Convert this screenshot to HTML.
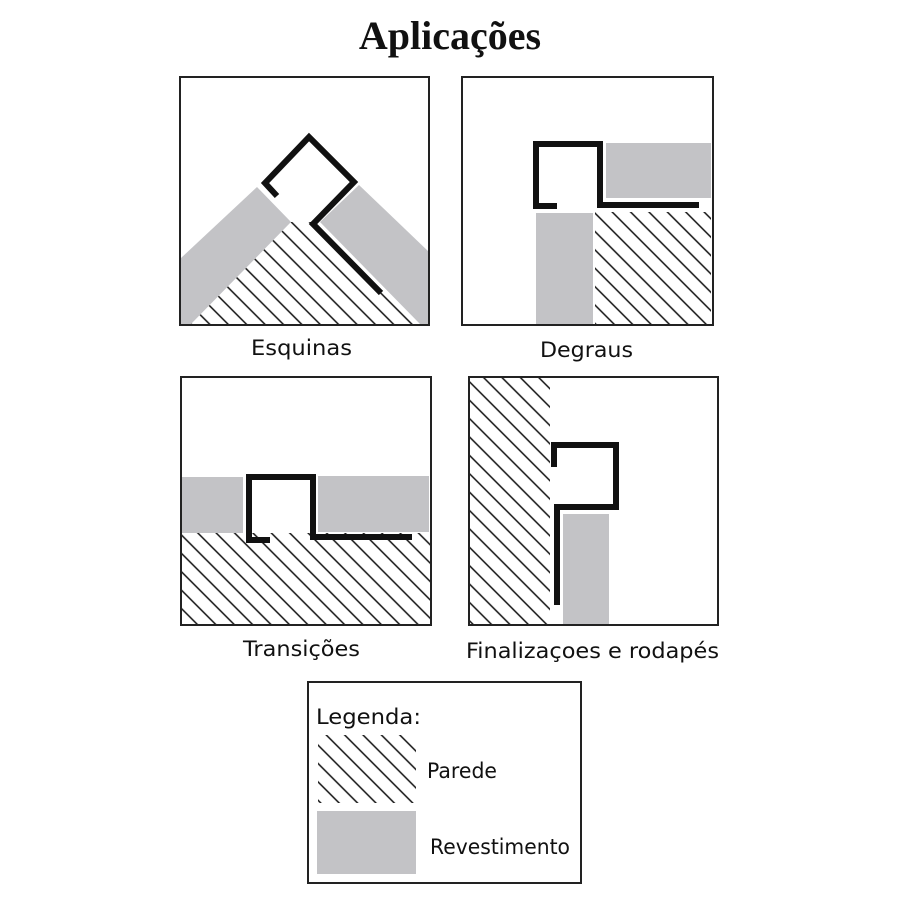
<!DOCTYPE html>
<html><head><meta charset="utf-8"><style>
html,body{margin:0;padding:0;background:#fff;}
svg{display:block;}
.lbl{font-family:"DejaVu Sans","Liberation Sans",sans-serif;font-size:21px;fill:#111;}
</style></head><body>
<svg width="900" height="900" viewBox="0 0 900 900" xmlns="http://www.w3.org/2000/svg">
<defs>
<pattern id="h" width="13" height="13" patternUnits="userSpaceOnUse" patternTransform="rotate(45)">
<line x1="0" y1="3" x2="13" y2="3" stroke="#111" stroke-width="1.5"/>
</pattern>
</defs>
<text x="450" y="49" text-anchor="middle" font-family="'Liberation Serif',serif" font-weight="bold" font-size="40" fill="#111">Aplicações</text>

<!-- Panel 1 -->
<polygon points="291,222 320,222 420,324 191,324" fill="url(#h)"/>
<polygon points="181,258 257,187 291,222 191,324 181,324" fill="#c3c3c6"/>
<polygon points="359,185 429,252 429,324 420,324 320,222" fill="#c3c3c6"/>
<polyline points="277,196 265,183 309,137 354,182 313,224 381,293" fill="none" stroke="#111" stroke-width="6"/>
<rect x="180" y="77" width="249" height="248" fill="none" stroke="#222" stroke-width="2"/>
<text class="lbl" x="251" y="355" textLength="101" lengthAdjust="spacingAndGlyphs">Esquinas</text>

<!-- Panel 2 -->
<rect x="595" y="212" width="116" height="113" fill="url(#h)"/>
<rect x="606" y="143" width="105" height="55" fill="#c3c3c6"/>
<rect x="536" y="213" width="57" height="112" fill="#c3c3c6"/>
<polyline points="557,206 536,206 536,144 600,144 600,205 699,205" fill="none" stroke="#111" stroke-width="6"/>
<rect x="462" y="77" width="251" height="248" fill="none" stroke="#222" stroke-width="2"/>
<text class="lbl" x="540" y="357" textLength="93" lengthAdjust="spacingAndGlyphs">Degraus</text>

<!-- Panel 3 -->
<rect x="181" y="533" width="250" height="92" fill="url(#h)"/>
<rect x="182" y="477" width="61" height="56" fill="#c3c3c6"/>
<rect x="318" y="476" width="111" height="56" fill="#c3c3c6"/>
<polyline points="270,540 249,540 249,477 313,477 313,537 412,537" fill="none" stroke="#111" stroke-width="6"/>
<rect x="181" y="377" width="250" height="248" fill="none" stroke="#222" stroke-width="2"/>
<text class="lbl" x="243" y="656" textLength="117" lengthAdjust="spacingAndGlyphs">Transições</text>

<!-- Panel 4 -->
<rect x="469" y="377" width="81" height="248" fill="url(#h)"/>
<rect x="563" y="514" width="46" height="111" fill="#c3c3c6"/>
<polyline points="554,467 554,445 616,445 616,507 557,507 557,605" fill="none" stroke="#111" stroke-width="6"/>
<rect x="469" y="377" width="249" height="248" fill="none" stroke="#222" stroke-width="2"/>
<text class="lbl" x="466" y="658" textLength="253" lengthAdjust="spacingAndGlyphs">Finalizaçoes e rodapés</text>

<!-- Legend -->
<rect x="308" y="682" width="273" height="201" fill="none" stroke="#222" stroke-width="2"/>
<text class="lbl" x="316" y="724" textLength="105" lengthAdjust="spacingAndGlyphs">Legenda:</text>
<rect x="318" y="735" width="98" height="68" fill="url(#h)"/>
<text class="lbl" x="427" y="778" textLength="70" lengthAdjust="spacingAndGlyphs">Parede</text>
<rect x="317" y="811" width="99" height="63" fill="#c3c3c6"/>
<text class="lbl" x="430" y="854" textLength="140" lengthAdjust="spacingAndGlyphs">Revestimento</text>
</svg>
</body></html>
